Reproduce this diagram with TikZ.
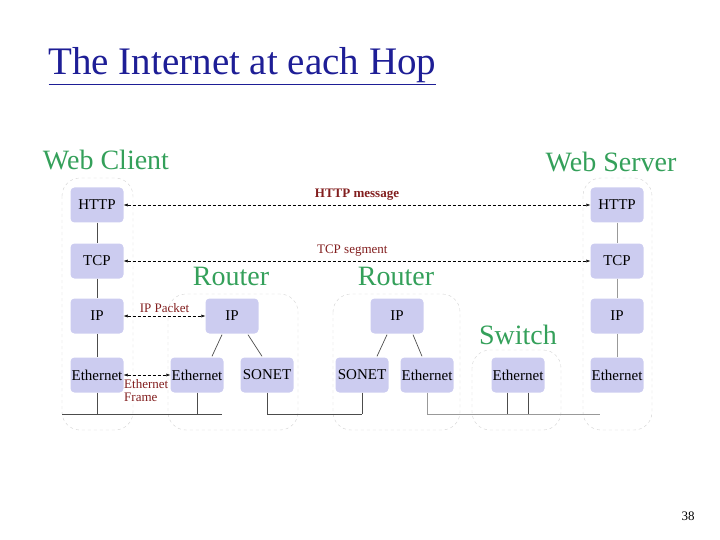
\documentclass[tikz,border=0pt]{standalone}
\usepackage{fontspec}
\setmainfont{Liberation Serif}
\usetikzlibrary{arrows.meta}
\definecolor{boxc}{RGB}{204,204,240}
\definecolor{grn}{RGB}{52,160,90}
\definecolor{lbl}{RGB}{130,30,30}
\definecolor{ttl}{RGB}{30,30,150}
\tikzset{
  layer/.style={fill=boxc,rounded corners=4pt,minimum width=53pt,minimum height=35pt,inner sep=0pt,font=\fontsize{15}{15}\selectfont},
  cont/.style={draw=black!18,dashed,rounded corners=18pt},
  hdr/.style={text=grn,font=\fontsize{28}{28}\selectfont},
  msg/.style={densely dashed,{Latex[length=4pt]}-{Latex[length=4pt]}},
  mlbl/.style={text=lbl,font=\fontsize{13}{13}\selectfont},
  wire/.style={black!70,line width=0.7pt}
}
\begin{document}
\begin{tikzpicture}[x=1pt,y=-1pt]
\useasboundingbox (0,0) rectangle (720,540);
\node[anchor=west,text=ttl,font=\fontsize{39}{39}\selectfont] (title) at (45,66) {\underline{The Internet at each Hop}};
\node (pg) at (688,516) {\fontsize{13}{13}\selectfont 38};
% containers
\draw[cont] (62,178) rectangle (133,430);
\draw[cont] (168,294) rectangle (298,430);
\draw[cont] (333,294) rectangle (460,430);
\draw[cont] (472,350) rectangle (561,430);
\draw[cont] (583,178) rectangle (652,430);
% headers
\node[hdr] (hc) at (106,160) {Web Client};
\node[hdr] (hs) at (611,162) {Web Server};
\node[hdr] (hr1) at (231,276) {Router};
\node[hdr] (hr2) at (396,276) {Router};
\node[hdr] (hsw) at (518,335) {Switch};
% wires
\draw[wire] (62,414) -- (222,414);
\draw[wire] (267,414) -- (362,414);
\draw[wire,black!40] (427,414) -- (600,414);
% client
\node[layer] (ch) at (97,205) {HTTP};
\node[layer] (ct) at (97,261) {TCP};
\node[layer] (ci) at (97,316) {IP};
\node[layer] (ce) at (97,375) {Ethernet};
\coordinate (cw) at (97,414);
% server
\node[layer] (sh) at (617,205) {HTTP};
\node[layer] (st) at (617,261) {TCP};
\node[layer] (si) at (617,316) {IP};
\node[layer] (se) at (617,375) {Ethernet};
% router 1
\node[layer] (r1i) at (232,316) {IP};
\node[layer] (r1e) at (197,375) {Ethernet};
\node[layer] (r1s) at (267,375) {SONET};
\coordinate (r1ew) at (197,414);
\coordinate (r1sw) at (267,414);
% router 2
\node[layer] (r2i) at (397,316) {IP};
\node[layer] (r2s) at (362,375) {SONET};
\node[layer] (r2e) at (427,375) {Ethernet};
\coordinate (r2sw) at (362,414);
\coordinate (r2ew) at (427,414);
% switch
\node[layer] (swe) at (518,375) {Ethernet};
\coordinate (sw1) at (507,414);
\coordinate (sw2) at (528,414);
% stack links
\draw[wire] (ch) -- (ct) (ct) -- (ci) (ci) -- (ce) (ce) -- (cw);
\draw[wire,black!40] (sh) -- (st) (st) -- (si) (si) -- (se);
\draw[wire] ([xshift=-10pt,yshift=-1pt]r1i.south) -- ([xshift=15pt,yshift=1pt]r1e.north);
\draw[wire] ([xshift=16pt,yshift=-1pt]r1i.south) -- ([xshift=-5pt,yshift=1pt]r1s.north);
\draw[wire] ([xshift=-10pt,yshift=-1pt]r2i.south) -- ([xshift=15pt,yshift=1pt]r2s.north);
\draw[wire] ([xshift=16pt,yshift=-1pt]r2i.south) -- ([xshift=-5pt,yshift=1pt]r2e.north);
\draw[wire] (r1e) -- (r1ew) (r1s) -- (r1sw) (r2s) -- (r2sw);
\draw[wire,black!40] (r2e.south) -- (r2ew);
\draw[wire] ([xshift=-11pt]swe.south) -- (sw1) ([xshift=10pt]swe.south) -- (sw2);
% messages
\draw[msg] (ch) -- (sh) node[mlbl,pos=0.5,above=1pt,font=\bfseries\fontsize{13}{13}\selectfont] (m1) {HTTP message};
\draw[msg] (ct) -- (st) node[mlbl,pos=0.49,above=1pt] (m2) {TCP segment};
\draw[msg] (ci) -- (r1i) node[mlbl,pos=0.5,above=0pt] (m3) {IP Packet};
\draw[msg] (ce) -- (r1e);
\node[mlbl,anchor=north west,align=left,inner sep=0pt] (m4) at (124,379) {Ethernet\\Frame};
\end{tikzpicture}
\end{document}
